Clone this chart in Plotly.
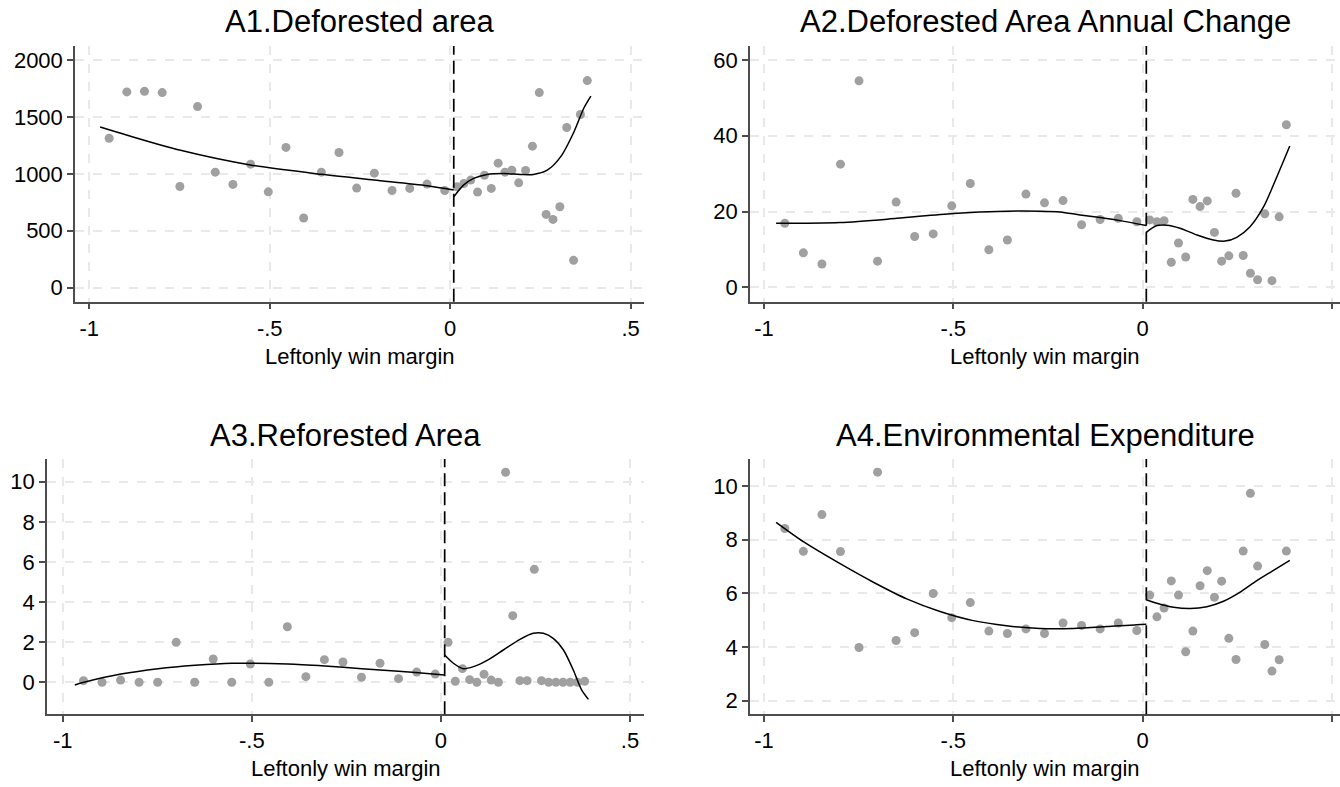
import plotly.graph_objects as go

# ---------------- data ----------------
cutoff = 0.01

x_left = [-0.945, -0.896, -0.847, -0.798, -0.749, -0.700, -0.651, -0.602, -0.553, -0.504,
          -0.455, -0.406, -0.357, -0.308, -0.259, -0.210, -0.161, -0.112, -0.064, -0.015]
x_right = [0.019, 0.038, 0.057, 0.076, 0.095, 0.114, 0.133, 0.152, 0.171, 0.190,
           0.209, 0.228, 0.247, 0.266, 0.285, 0.304, 0.323, 0.342, 0.361, 0.380]

# A1 Deforested area
a1_left = [1313, 1720, 1725, 1714, 889, 1591, 1015, 907, 1085, 842,
           1232, 612, 1015, 1188, 875, 1006, 854, 872, 910, 854]
a1_right = [886, 915, 945, 840, 988, 872, 1094, 1015, 1032, 921,
            1030, 1243, 1714, 644, 600, 711, 1407, 240, 1521, 1819]
a1_fitL_x = [-0.970, -0.897, -0.750, -0.554, -0.357, -0.211, -0.064, 0.010]
a1_fitL_y = [1411, 1341, 1209, 1078, 996, 946, 896, 858]
a1_fitR_x = [0.010, 0.037, 0.065, 0.102, 0.148, 0.194, 0.231, 0.269, 0.306, 0.343, 0.370, 0.390]
a1_fitR_y = [798, 901, 960, 995, 1003, 995, 995, 1032, 1149, 1368, 1574, 1682]

# A2 Deforested Area Annual Change
a2_left = [16.9, 9.1, 6.15, 32.5, 54.5, 6.9, 22.5, 13.4, 14.1, 21.5,
           27.4, 9.9, 12.5, 24.6, 22.3, 22.9, 16.5, 17.9, 18.2, 17.3]
a2_right = [17.8, 17.3, 17.6, 6.6, 11.7, 8.0, 23.2, 21.3, 22.8, 14.5,
            6.9, 8.3, 24.8, 8.4, 3.7, 2.0, 19.4, 1.75, 18.6, 42.9]
a2_fitL_x = [-0.968, -0.799, -0.649, -0.500, -0.359, -0.271, -0.218, -0.165, -0.112, -0.059, 0.010]
a2_fitL_y = [16.9, 17.1, 18.2, 19.5, 20.1, 20.1, 19.9, 19.1, 18.4, 17.6, 16.3]
a2_fitR_x = [0.010, 0.038, 0.064, 0.099, 0.144, 0.187, 0.218, 0.249, 0.284, 0.320, 0.355, 0.389]
a2_fitR_y = [14.5, 16.3, 16.4, 15.6, 13.8, 12.5, 12.2, 13.2, 16.0, 21.3, 29.2, 37.3]

# A3 Reforested Area
a3_left = [0.08, 0.0, 0.11, 0.0, 0.0, 1.99, 0.0, 1.16, 0.0, 0.91,
           0.0, 2.77, 0.28, 1.13, 1.01, 0.25, 0.95, 0.18, 0.51, 0.41]
a3_right = [1.99, 0.05, 0.68, 0.13, 0.0, 0.40, 0.11, 0.0, 10.47, 3.32,
            0.08, 0.08, 5.63, 0.08, 0.0, 0.0, 0.0, 0.0, 0.0, 0.05]
a3_fitL_x = [-0.968, -0.944, -0.846, -0.748, -0.650, -0.552, -0.405, -0.307, -0.209, -0.112, -0.014, 0.010]
a3_fitL_y = [-0.13, 0.0, 0.41, 0.68, 0.85, 0.95, 0.91, 0.81, 0.68, 0.55, 0.40, 0.36]
a3_fitR_x = [0.010, 0.033, 0.059, 0.086, 0.121, 0.165, 0.209, 0.244, 0.271, 0.297, 0.324, 0.350, 0.372, 0.390]
a3_fitR_y = [1.36, 0.95, 0.68, 0.78, 1.08, 1.61, 2.14, 2.44, 2.44, 2.19, 1.61, 0.61, -0.38, -0.85]

# A4 Environmental Expenditure
a4_left = [8.41, 7.56, 8.93, 7.55, 3.98, 10.51, 4.24, 4.53, 5.99, 5.09,
           5.65, 4.59, 4.50, 4.67, 4.50, 4.89, 4.80, 4.67, 4.89, 4.61]
a4_right = [5.93, 5.12, 5.45, 6.46, 5.93, 3.82, 4.59, 6.28, 6.84, 5.85,
            6.45, 4.32, 3.53, 7.57, 9.72, 7.01, 4.09, 3.10, 3.52, 7.57]
a4_fitL_x = [-0.968, -0.895, -0.799, -0.711, -0.623, -0.535, -0.447, -0.359, -0.271, -0.183, -0.094, -0.015, 0.010]
a4_fitL_y = [8.64, 7.91, 7.10, 6.41, 5.79, 5.32, 4.98, 4.79, 4.69, 4.69, 4.76, 4.83, 4.84]
a4_fitR_x = [0.010, 0.038, 0.082, 0.126, 0.170, 0.214, 0.258, 0.302, 0.346, 0.389]
a4_fitR_y = [5.76, 5.63, 5.48, 5.43, 5.50, 5.70, 6.04, 6.47, 6.85, 7.22]

titles = ["A1.Deforested area", "A2.Deforested Area Annual Change",
          "A3.Reforested Area", "A4.Environmental Expenditure"]
x_label = "Leftonly win margin"
x_tickvals = [-1, -0.5, 0, 0.5]
x_ticktext = ["-1", "-.5", "0", ".5"]
y_ticks = [[0, 500, 1000, 1500, 2000], [0, 20, 40, 60], [0, 2, 4, 6, 8, 10], [2, 4, 6, 8, 10]]

panels = [
    (a1_left, a1_right, a1_fitL_x, a1_fitL_y, a1_fitR_x, a1_fitR_y),
    (a2_left, a2_right, a2_fitL_x, a2_fitL_y, a2_fitR_x, a2_fitR_y),
    (a3_left, a3_right, a3_fitL_x, a3_fitL_y, a3_fitR_x, a3_fitR_y),
    (a4_left, a4_right, a4_fitL_x, a4_fitL_y, a4_fitR_x, a4_fitR_y),
]

# ---------------- layout geometry (pixels) ----------------
W, H = 1340, 787
# (left, right, top, bottom) of each plot area
boxes = [(75, 644.3, 46, 301.7), (750, 1340, 46, 301.7),
         (47, 644, 459, 714.3), (750, 1340, 459, 714.3)]
x_ranges = [[-1.0396, 0.538], [-1.037, 0.5217], [-1.0415, 0.537], [-1.037, 0.5217]]
y_ranges = [[-123, 2123], [-3.8, 63.7], [-1.595, 11.13], [1.49, 11.0]]

FONT = "Liberation Sans, Arial, sans-serif"
MARK = "#a0a0a0"
AX = "#4d4d4d"
GRID = "#e9e9e9"

fig = go.Figure()
layout = dict(
    width=W, height=H, margin=dict(l=0, r=0, t=0, b=0),
    paper_bgcolor="white", plot_bgcolor="white", showlegend=False,
    font=dict(family=FONT, color="black"),
)
annotations = []
shapes = []

for i, (yl, yr, flx, fly, frx, fry) in enumerate(panels):
    n = "" if i == 0 else str(i + 1)
    xa, ya = "x" + n, "y" + n
    for xs, ys in ((x_left, yl), (x_right, yr)):
        fig.add_trace(go.Scatter(x=xs, y=ys, mode="markers", xaxis=xa, yaxis=ya,
                                 marker=dict(color=MARK, size=9, line=dict(width=0)),
                                 hoverinfo="skip"))
    for xs, ys in ((flx, fly), (frx, fry)):
        fig.add_trace(go.Scatter(x=xs, y=ys, mode="lines", xaxis=xa, yaxis=ya,
                                 line=dict(color="black", width=1.5, shape="spline", smoothing=0.8),
                                 hoverinfo="skip"))
    l, r, t, b = boxes[i]
    layout["xaxis" + n] = dict(
        domain=[l / W, r / W], range=x_ranges[i], anchor=ya,
        tickvals=x_tickvals, ticktext=x_ticktext,
        showline=True, linecolor=AX, linewidth=1.5, ticks="outside", ticklen=6,
        tickwidth=1.5, tickcolor=AX, tickfont=dict(size=22, color="black", family=FONT),
        showgrid=True, gridcolor=GRID, gridwidth=1.5, griddash="dash", zeroline=False,
    )
    layout["yaxis" + n] = dict(
        domain=[1 - b / H, 1 - t / H], range=y_ranges[i], anchor=xa,
        tickvals=y_ticks[i],
        showline=True, linecolor=AX, linewidth=1.5, ticks="outside", ticklen=6,
        tickwidth=1.5, tickcolor=AX, tickfont=dict(size=22, color="black", family=FONT),
        showgrid=True, gridcolor=GRID, gridwidth=1.5, griddash="dash", zeroline=False,
    )
    # cutoff line
    shapes.append(dict(type="line", xref=xa, yref=ya + " domain", x0=cutoff, x1=cutoff,
                       y0=0, y1=1, line=dict(color="black", width=1.7, dash="13px,6px")))
    # panel title
    annotations.append(dict(text=titles[i], xref="paper", yref="paper",
                            x=(l + r) / 2 / W, y=1 - (t - 24) / H, xanchor="center",
                            yanchor="middle", showarrow=False,
                            font=dict(size=31, family=FONT, color="black")))
    # x axis title
    annotations.append(dict(text=x_label, xref="paper", yref="paper",
                            x=(l + r) / 2 / W, y=1 - (b + 54.5) / H, xanchor="center",
                            yanchor="middle", showarrow=False,
                            font=dict(size=22, family=FONT, color="black")))

layout["annotations"] = annotations
layout["shapes"] = shapes
fig.update_layout(**layout)
fig.write_html("out.html")
